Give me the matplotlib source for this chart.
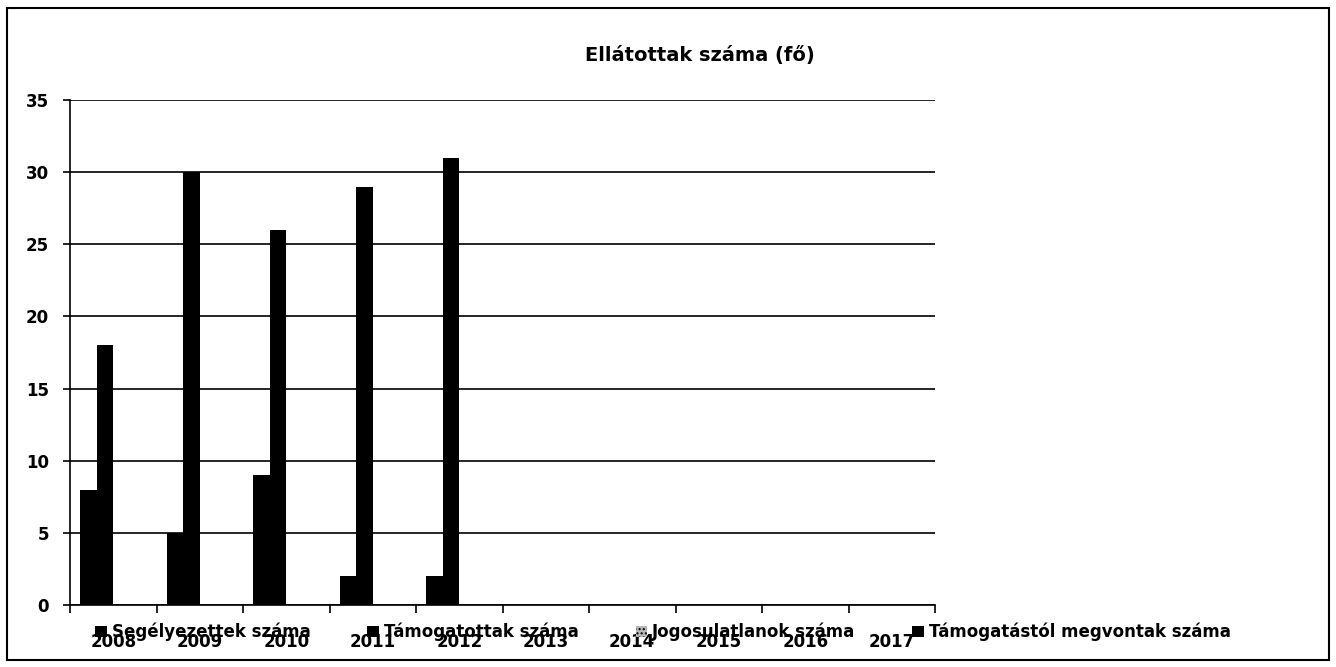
import numpy as np
import matplotlib.pyplot as plt
import matplotlib.patches as mpatches

years = ["2008", "2009", "2010", "2011", "2012", "2013", "2014", "2015", "2016", "2017"]
segelyezettek = [8, 5, 9, 2, 2, 0, 0, 0, 0, 0]
tamogatottak = [18, 30, 26, 29, 31, 0, 0, 0, 0, 0]
jogosulatlanok = [0, 0, 0, 0, 0, 0, 0, 0, 0, 0]
megvontak = [0, 0, 0, 0, 0, 0, 0, 0, 0, 0]
series_names = ["Segélyezettek száma", "Támogatottak száma",
                "Jogosulatlanok száma", "Támogatástól megvontak száma"]
yticks = [0, 5, 10, 15, 20, 25, 30, 35]

plt.rcParams['font.family'] = ['DejaVu Sans']
plt.rcParams['font.weight'] = 'bold'
plt.rcParams['hatch.color'] = '#666666'

fig = plt.figure(figsize=(13.36, 6.67), dpi=100)
ax = fig.add_axes([70 / 1336, 62 / 667, 865 / 1336, 505 / 667])

x = np.arange(len(years))
w = 0.19
start = -0.5 + 0.12
series = [segelyezettek, tamogatottak, jogosulatlanok, megvontak]
styles = [dict(color="black"), dict(color="black"),
          dict(facecolor="#bbbbbb", edgecolor="black", hatch="...."),
          dict(color="black")]
handles = []
for i, (vals, st) in enumerate(zip(series, styles)):
    b = ax.bar(x + start + w * (i + 0.5), vals, width=w, linewidth=0,
               label=series_names[i], zorder=3, **st)
    handles.append(b)

ax.set_xlim(-0.5, len(years) - 0.5)
ax.set_ylim(0, 35)
ax.set_yticks(yticks)
ax.set_yticklabels([str(v) for v in yticks], fontsize=12, fontweight="bold")
ax.yaxis.grid(True, color="black", linewidth=1.2, zorder=0)
ax.set_axisbelow(True)

ax.set_xticks(x)
ax.set_xticklabels(years, fontsize=12, fontweight="bold")
ax.tick_params(axis="x", length=0, pad=20)
ax.set_xticks(np.arange(len(years) + 1) - 0.5, minor=True)
ax.tick_params(axis="x", which="minor", length=6, width=1.2, direction="out")
ax.tick_params(axis="y", length=5, width=1.2, pad=10)

for s in ["top", "right"]:
    ax.spines[s].set_visible(False)
ax.spines["left"].set_linewidth(1.2)
ax.spines["bottom"].set_linewidth(1.2)

fig.text(700 / 1336, 1 - 55 / 667, "Ellátottak száma (fő)", ha="center",
         va="center", fontsize=14, fontweight="bold")

fig.legend(handles=handles, loc="center", ncol=4, frameon=False,
           bbox_to_anchor=(663 / 1336, 1 - 632 / 667), fontsize=12,
           handlelength=0.7, handleheight=0.7, handletextpad=0.3,
           columnspacing=3.4)

fig.patches.append(mpatches.Rectangle((7 / 1336, 7 / 667), 1322 / 1336, 652 / 667,
                                      transform=fig.transFigure, fill=False,
                                      edgecolor="black", linewidth=1.5))

fig.savefig("out.png", dpi=100)
